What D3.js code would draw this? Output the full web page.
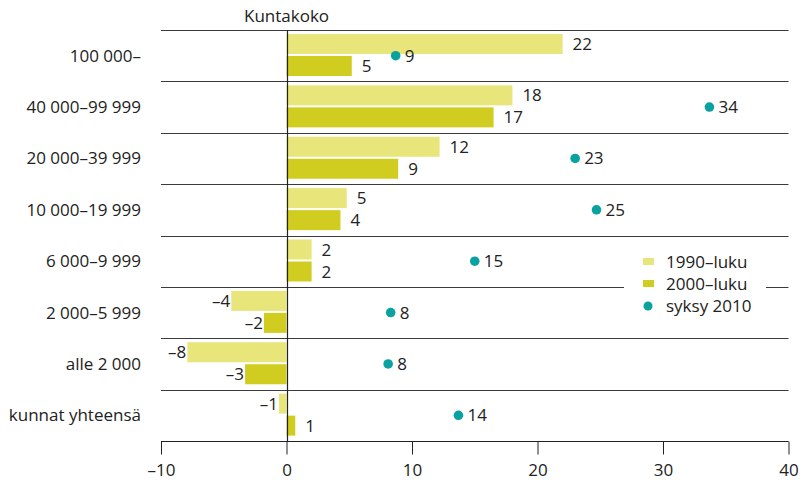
<!DOCTYPE html>
<html><head><meta charset="utf-8">
<script src="https://cdn.jsdelivr.net/npm/d3@7"></script>
<style>body{margin:0;background:#fff}svg{display:block}text{font-family:"Open Sans",sans-serif;fill:#222}</style>
</head><body><svg id="c" width="812" height="482"></svg>
<script>
const categories = ["100 000–","40 000–99 999","20 000–39 999","10 000–19 999","6 000–9 999","2 000–5 999","alle 2 000","kunnat yhteensä"];
const v1990 = [22.0, 18.0, 12.2, 4.8, 2.0, -4.4, -7.9, -0.6];
const v2000 = [5.2, 16.5, 8.9, 4.3, 2.0, -1.8, -3.3, 0.7];
const v2010 = [8.7, 33.7, 23.0, 24.7, 15.0, 8.3, 8.1, 13.7];
const lab1990 = ["22","18","12","5","2","–4","–8","–1"];
const lab2000 = ["5","17","9","4","2","–2","–3","1"];
const lab2010 = ["9","34","23","25","15","8","8","14"];
const xTicks = [-10,0,10,20,30,40];
const seriesNames = ["1990–luku","2000–luku","syksy 2010"];
const colors = ["#e8e57a","#d1cd20","#0aa29f"];

const svg = d3.select("#c");
const x = d3.scaleLinear().domain([-10,40]).range([161,788.5]);
const y = d3.scaleBand().domain(categories).range([30,441]);
const fs = 17;

svg.append("g").selectAll("line").data(categories).join("line")
  .attr("x1",161).attr("x2",788.5).attr("y1",d=>Math.round(y(d))+0.5).attr("y2",d=>Math.round(y(d))+0.5)
  .attr("stroke","#3a3a3a").attr("stroke-width",1);

const bh = 20;
svg.append("g").selectAll("rect").data(categories).join("rect")
  .attr("x",(d,i)=>x(Math.min(0,v1990[i]))).attr("width",(d,i)=>Math.abs(x(v1990[i])-x(0)))
  .attr("y",d=>y(d)+4).attr("height",bh).attr("fill",colors[0]);
svg.append("g").selectAll("rect").data(categories).join("rect")
  .attr("x",(d,i)=>x(Math.min(0,v2000[i]))).attr("width",(d,i)=>Math.abs(x(v2000[i])-x(0)))
  .attr("y",d=>y(d)+26).attr("height",bh).attr("fill",colors[1]);

function barLabels(vals, labs, off){
  svg.append("g").selectAll("text").data(categories).join("text")
    .attr("x",(d,i)=>vals[i]>=0 ? x(vals[i])+10 : x(vals[i])-1)
    .attr("y",d=>y(d)+off)
    .attr("text-anchor",(d,i)=>vals[i]>=0?"start":"end")
    .attr("font-size",fs).text((d,i)=>labs[i]);
}
barLabels(v1990, lab1990, 20);
barLabels(v2000, lab2000, 42);

svg.append("line").attr("x1",Math.round(x(0))+0.5).attr("x2",Math.round(x(0))+0.5).attr("y1",30).attr("y2",441)
  .attr("stroke","#222").attr("stroke-width",1.2);

const lg = svg.append("g");
lg.append("rect").attr("x",624).attr("y",244).attr("width",142).attr("height",78).attr("fill","#fff");
seriesNames.forEach((n,i)=>{
  const cy = 262 + i*22;
  if(i<2) lg.append("rect").attr("x",643).attr("y",cy-4).attr("width",11).attr("height",7).attr("fill",colors[i]);
  else lg.append("circle").attr("cx",648).attr("cy",cy).attr("r",4.5).attr("fill",colors[2]);
  lg.append("text").attr("x",666).attr("y",cy+6).attr("font-size",fs).text(n);
});

svg.append("g").selectAll("circle").data(categories).join("circle")
  .attr("cx",(d,i)=>x(v2010[i])).attr("cy",d=>y(d)+y.bandwidth()/2).attr("r",4.8).attr("fill",colors[2]);
svg.append("g").selectAll("text").data(categories).join("text")
  .attr("x",(d,i)=>x(v2010[i])+9).attr("y",d=>y(d)+y.bandwidth()/2+6)
  .attr("font-size",fs).text((d,i)=>lab2010[i]);

svg.append("g").selectAll("text").data(categories).join("text")
  .attr("x",141).attr("y",d=>y(d)+y.bandwidth()/2+6).attr("text-anchor","end")
  .attr("font-size",fs).text(d=>d);

svg.append("text").attr("x",244).attr("y",22).attr("font-size",fs).text("Kuntakoko");

const ax = svg.append("g").attr("transform","translate(0,441.5)")
  .call(d3.axisBottom(x).tickValues(xTicks).tickSize(13).tickPadding(9).tickFormat(d=>d<0?"–"+Math.abs(d):d));
ax.select(".domain").attr("stroke","#222").attr("d","M161,0H788.5");
ax.selectAll(".tick line").attr("stroke","#222");
ax.selectAll(".tick text").attr("font-size",fs).attr("font-family","Open Sans").attr("fill","#222");
</script></body></html>
